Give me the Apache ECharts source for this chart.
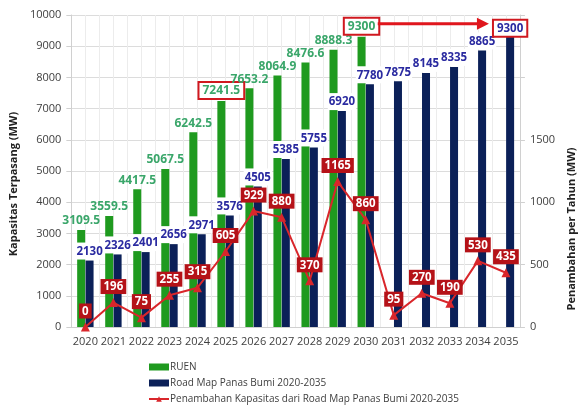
<!DOCTYPE html>
<html>
<head>
<meta charset="utf-8">
<script src="https://cdn.jsdelivr.net/npm/echarts@6/dist/echarts.min.js"></script>
<style>
  html, body { margin: 0; padding: 0; background: #fff; }
  #chart { width: 585px; height: 412px; }
</style>
</head>
<body>
<div id="chart"></div>
<script>
var years = ["2020", "2021", "2022", "2023", "2024", "2025", "2026", "2027",
  "2028", "2029", "2030", "2031", "2032", "2033", "2034", "2035"];
var ruen = [3109.5, 3559.5, 4417.5, 5067.5, 6242.5, 7241.5, 7653.2, 8064.9,
  8476.6, 8888.3, 9300, null, null, null, null, null];
var roadMap = [2130, 2326, 2401, 2656, 2971, 3576, 4505, 5385, 5755, 6920,
  7780, 7875, 8145, 8335, 8865, 9300];
var tambahan = [0, 196, 75, 255, 315, 605, 929, 880, 370, 1165, 860, 95, 270,
  190, 530, 435];
var leftTicks = [0, 10000, 1000];
var rightTicks = [0, 2500, 500];
var boxedRuen = ["2025", "2030"];
var boxedRoad = ["2035"];

var font = "Open Sans";
var myChart = echarts.init(document.getElementById("chart"));

function boxed(list, boxList, color) {
  return list.map(function (v, i) {
    if (boxList.indexOf(years[i]) < 0) return v;
    return {
      value: v,
      label: {
        borderColor: "#d0181f",
        borderWidth: 2,
        backgroundColor: "#fff",
        padding: [2, 3, 1, 3],
        color: color,
      },
    };
  });
}

var option = {
  animation: false,
  textStyle: { fontFamily: font },
  grid: { left: 67, right: 50, top: 15, bottom: 85 },
  legend: {
    orient: "vertical",
    left: 143,
    top: 357,
    itemWidth: 20,
    itemHeight: 7,
    itemGap: 6,
    textStyle: { fontSize: 10, color: "#404040", fontFamily: font, padding: [0, 0, 0, -4] },
    data: [
      { name: "RUEN", icon: "rect" },
      { name: "Road Map Panas Bumi 2020-2035", icon: "rect" },
      { name: "Penambahan Kapasitas dari Road Map Panas Bumi 2020-2035" },
    ],
  },
  xAxis: [
    {
      type: "category",
      data: years,
      axisTick: { show: false },
      axisLine: { lineStyle: { color: "#d0d0d0" } },
      axisLabel: { color: "#404040", fontSize: 11, margin: 9, interval: 0 },
      splitLine: { show: false },
    },
    {
      type: "value",
      min: 0,
      max: 32,
      interval: 1,
      show: true,
      axisLine: { show: false },
      axisTick: { show: false },
      axisLabel: { show: false },
      splitLine: { show: true, lineStyle: { color: "#ececec" } },
    },
  ],
  yAxis: [
    {
      type: "value",
      min: leftTicks[0],
      max: leftTicks[1],
      interval: leftTicks[2],
      name: "Kapasitas Terpasang (MW)",
      nameLocation: "middle",
      nameGap: 39,
      nameTextStyle: {
        fontSize: 11,
        fontWeight: "bold",
        color: "#222",
        padding: [0, 26, 0, 0],
      },
      axisLine: { show: true, lineStyle: { color: "#d0d0d0" } },
      axisLabel: {
        color: "#404040",
        fontSize: 11,
        margin: 10,
        formatter: function (v) {
          return String(v);
        },
      },
      splitLine: { lineStyle: { color: "#dcdcdc" } },
    },
    {
      type: "value",
      min: rightTicks[0],
      max: rightTicks[1],
      interval: rightTicks[2],
      name: "Penambahan per Tahun (MW)",
      nameLocation: "middle",
      nameGap: 42,
      nameTextStyle: {
        fontSize: 11,
        fontWeight: "bold",
        color: "#222",
        padding: [0, 116, 0, 0],
      },
      axisLine: { show: true, lineStyle: { color: "#d0d0d0" } },
      axisTick: { show: true, lineStyle: { color: "#d0d0d0" } },
      axisLabel: {
        color: "#404040",
        fontSize: 11,
        margin: 10,
        formatter: function (v) {
          return v > 1500 ? "" : String(v);
        },
      },
      splitLine: { show: false },
    },
  ],
  series: [
    {
      name: "RUEN",
      type: "bar",
      data: boxed(ruen, boxedRuen, "#3aa66a"),
      barWidth: 8,
      barGap: "5%",
      itemStyle: { color: "#1f9a1f" },
      label: {
        show: true,
        position: "top",
        distance: 3,
        color: "#3aa66a",
        fontWeight: "bold",
        fontSize: 12,
      },
    },
    {
      name: "Road Map Panas Bumi 2020-2035",
      type: "bar",
      data: boxed(roadMap, boxedRoad, "#2a2aa0"),
      barWidth: 8,
      barGap: "5%",
      itemStyle: { color: "#0b2058" },
      label: {
        show: true,
        position: "top",
        distance: 1,
        color: "#2a2aa0",
        fontWeight: "bold",
        fontSize: 11.5,
        backgroundColor: "#fff",
        padding: [3, 1, 2, 1],
      },
    },
    {
      name: "Penambahan Kapasitas dari Road Map Panas Bumi 2020-2035",
      type: "line",
      yAxisIndex: 1,
      data: tambahan,
      symbol: "triangle",
      symbolSize: 9,
      z: 5,
      itemStyle: { color: "#d9262b" },
      lineStyle: { color: "#d9262b", width: 2 },
      label: {
        show: true,
        position: "top",
        distance: 4,
        color: "#fff",
        fontWeight: "bold",
        fontSize: 11.5,
        backgroundColor: "#b51218",
        padding: [2, 3, 1, 3],
      },
    },
  ],
};

myChart.setOption(option);

// red arrow joining the two boxed 9300 labels
var pa = myChart.convertToPixel({ xAxisIndex: 0, yAxisIndex: 0 }, ["2030", 9300]);
var pb = myChart.convertToPixel({ xAxisIndex: 0, yAxisIndex: 0 }, ["2035", 9300]);
var ay = pa[1] - 13;
var x0 = pa[0] + 12;
var x1 = pb[0] - 17;
myChart.setOption({
  graphic: [
    {
      type: "line",
      shape: { x1: x0, y1: ay, x2: x1 - 10, y2: ay },
      style: { stroke: "#e0161d", lineWidth: 3 },
      z: 100,
    },
    {
      type: "polygon",
      shape: { points: [[x1 - 12, ay - 6], [x1, ay], [x1 - 12, ay + 6]] },
      style: { fill: "#e0161d" },
      z: 100,
    },
  ],
});
</script>
</body>
</html>
